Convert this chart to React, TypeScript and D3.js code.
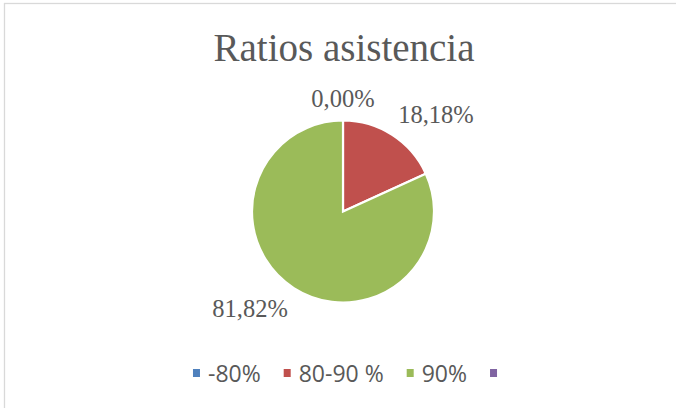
import React, { useEffect, useRef } from "react";
import * as d3 from "d3";

const categories = ["-80%", "80-90 %", "90%", ""];
const values = [0, 2, 9, 0];
const colors = ["#4f81bd", "#c0504d", "#9bbb59", "#8064a2"];
const title = "Ratios asistencia";

const W = 676;
const H = 408;

export default function App() {
  const ref = useRef<SVGSVGElement | null>(null);

  useEffect(() => {
    const svg = d3.select(ref.current);
    svg.selectAll("*").remove();

    svg
      .append("rect")
      .attr("x", 4.5)
      .attr("y", 3.5)
      .attr("width", W + 10)
      .attr("height", H + 10)
      .attr("fill", "#fff")
      .attr("stroke", "#d9d9d9")
      .attr("stroke-width", 1.3);

    svg
      .append("text")
      .attr("x", 344)
      .attr("y", 61)
      .attr("text-anchor", "middle")
      .attr("font-family", "'Liberation Serif', serif")
      .attr("font-size", 39)
      .attr("fill", "#595959")
      .text(title);

    const cx = 343;
    const cy = 211.5;
    const r = 91;
    const data = categories.map((c, i) => ({ c, v: values[i], color: colors[i], i }));
    const pieData = data.filter((d) => d.c !== "");
    const total = d3.sum(pieData, (d) => d.v);
    const pie = d3.pie<any>().sort(null).value((d) => d.v);
    const arcs = pie(pieData);
    const arc = d3.arc<any>().innerRadius(0).outerRadius(r);

    const g = svg.append("g").attr("transform", `translate(${cx},${cy})`);
    g.selectAll("path")
      .data(arcs.filter((a) => a.data.v > 0))
      .enter()
      .append("path")
      .attr("d", arc as any)
      .attr("fill", (d: any) => d.data.color)
      .attr("stroke", "#fff")
      .attr("stroke-width", 2.2)
      .attr("stroke-linejoin", "miter");

    const fmt = (v: number) => (v * 100).toFixed(2).replace(".", ",") + "%";
    const lr = 102;
    arcs.forEach((a) => {
      const mid = (a.startAngle + a.endAngle) / 2;
      const s = Math.sin(mid);
      const c = Math.cos(mid);
      const px = lr * s;
      const py = -lr * c;
      const anchor = Math.abs(s) < 0.1 ? "middle" : s > 0 ? "start" : "end";
      const baseline = c > 0 ? py - 2.5 : py + 20;
      g.append("text")
        .attr("x", px)
        .attr("y", baseline)
        .attr("text-anchor", anchor)
        .attr("font-family", "'Liberation Serif', serif")
        .attr("font-size", 24.5)
        .attr("fill", "#595959")
        .text(fmt(a.data.v / total));
    });

    // legend
    const lg = svg.append("g");
    const items = data.map((d) => {
      const it = lg.append("g");
      it.append("rect").attr("width", 7).attr("height", 8).attr("fill", d.color);
      const t = it
        .append("text")
        .attr("x", 15)
        .attr("y", 12.5)
        .attr("font-family", "'Open Sans', sans-serif")
        .attr("font-size", 23)
        .attr("fill", "#595959")
        .text(d.c);
      const w = d.c ? (t.node() as SVGTextElement).getComputedTextLength() : 0;
      return { it, w: d.c ? 15 + w : 7 };
    });
    const gap = 23;
    const totalW = d3.sum(items, (d) => d.w) + gap * (items.length - 1);
    let x = 345 - totalW / 2;
    items.forEach((d) => {
      d.it.attr("transform", `translate(${x},369)`);
      x += d.w + gap;
    });
  }, []);

  return (
    <svg
      ref={ref}
      width={W}
      height={H}
      style={{ position: "absolute", left: 0, top: 0, display: "block" }}
    />
  );
}
